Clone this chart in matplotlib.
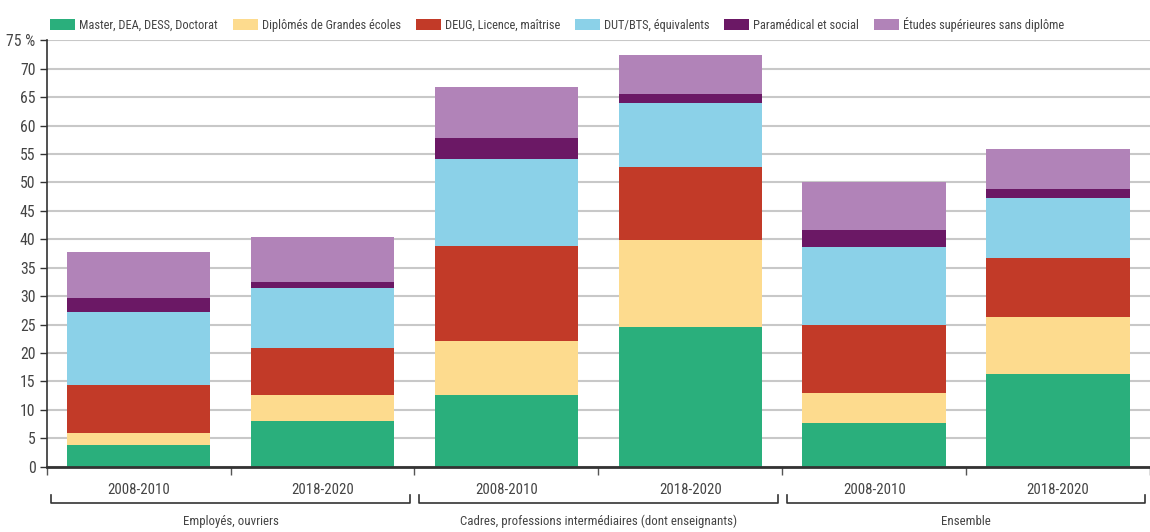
import numpy as np
import matplotlib
matplotlib.use("Agg")
import matplotlib.pyplot as plt
from matplotlib.patches import Patch
from matplotlib import font_manager
from matplotlib.font_manager import FontProperties
from matplotlib.textpath import TextPath

# Data (share of each diploma level, %)
groups = ["Employés, ouvriers",
          "Cadres, professions intermédiaires (dont enseignants)",
          "Ensemble"]
periods = ["2008-2010", "2018-2020"]

series = ["Master, DEA, DESS, Doctorat",
          "Diplômés de Grandes écoles",
          "DEUG, Licence, maîtrise",
          "DUT/BTS, équivalents",
          "Paramédical et social",
          "Études supérieures sans diplôme"]

master = [3.8, 8.1, 12.7, 24.5, 7.7, 16.3]
grandes_ecoles = [2.1, 4.5, 9.4, 15.4, 5.2, 10.0]
deug = [8.4, 8.3, 16.7, 12.8, 12.0, 10.5]
dut_bts = [12.9, 10.6, 15.4, 11.2, 13.8, 10.5]
paramedical = [2.4, 1.0, 3.7, 1.7, 2.9, 1.5]
sans_diplome = [8.1, 7.9, 8.9, 6.8, 8.4, 7.0]

yticks = list(range(0, 80, 5))
ytick_labels = [str(v) for v in yticks[:-1]] + ["75 %"]

colors = ["#2aaf7c", "#fddb8e", "#c23a28", "#8bd1e8", "#6b1865", "#b183b8"]
text_color = "#444444"
DPI = 100

# pick a narrow font if one is installed, else condensed DejaVu
available = {f.name for f in font_manager.fontManager.ttflist}
family, stretch = "DejaVu Sans", "condensed"
for cand in ["Liberation Sans Narrow", "Roboto Condensed",
             "Open Sans Condensed", "Noto Sans Condensed"]:
    if cand in available:
        family, stretch = cand, "normal"
        break
plt.rcParams["font.family"] = [family, "DejaVu Sans"]
plt.rcParams["font.stretch"] = stretch
prop = FontProperties(family=family, stretch=stretch)


def fit_size(s, px):
    # font size (pt) giving the text s an ink width of px pixels
    w = TextPath((0, 0), s, size=10, prop=prop).get_extents().width
    return 10 * px / (w * DPI / 72)


legend_fs = fit_size(series[0], 137)
xtick_fs = fit_size(periods[0], 61)
group_fs = fit_size(groups[1], 275)
ytick_fs = fit_size("70", 14)

values = [master, grandes_ecoles, deug, dut_bts, paramedical, sans_diplome]

fig = plt.figure(figsize=(11.5, 5.32), dpi=DPI)
ax = fig.add_axes([0.0406, 0.1227, 0.9594, 0.8015])

x = np.arange(len(groups) * len(periods))
bottom = np.zeros(len(x))
for vals, col in zip(values, colors):
    ax.bar(x, vals, width=0.78, bottom=bottom, color=col, zorder=3)
    bottom += np.array(vals)

ax.set_xlim(-0.5, 5.441)
ax.set_ylim(0, 75)
ax.set_yticks(yticks)
ax.set_yticklabels(ytick_labels)
ax.yaxis.grid(True, color="#c8c8c8", linewidth=1.5, zorder=0)
ax.set_axisbelow(True)

for side in ["top", "right"]:
    ax.spines[side].set_visible(False)
ax.spines["left"].set_color("#333333")
ax.spines["left"].set_linewidth(1.2)
ax.spines["bottom"].set_color("#333333")
ax.spines["bottom"].set_linewidth(2)
ax.spines["bottom"].set_zorder(4)

ax.tick_params(axis="y", length=5, width=1, color="#333333",
               labelsize=ytick_fs, labelcolor=text_color, pad=3)

# x ticks: labels at bar centers, small ticks at boundaries
ax.set_xticks(x)
ax.set_xticklabels(periods * len(groups))
ax.tick_params(axis="x", length=0, labelsize=xtick_fs, labelcolor=text_color, pad=12)
ax.set_xticks(np.arange(-0.5, 6.0, 1.0), minor=True)
ax.tick_params(axis="x", which="minor", length=6, width=1, color="#555555")

# group brackets and labels
trans = ax.get_xaxis_transform()
for g, name in enumerate(groups):
    x0 = 2 * g - 0.475
    x1 = 2 * g + 1.475
    ax.plot([x0, x0, x1, x1], [-0.066, -0.085, -0.085, -0.066],
            transform=trans, color="#333333", lw=1.2, clip_on=False)
    ax.text(2 * g + 0.5, -0.128, name, transform=trans, ha="center",
            va="center", fontsize=group_fs, color=text_color)

fs_px = legend_fs * DPI / 72
handles = [Patch(facecolor=c, edgecolor="none") for c in colors]
fig.legend(handles, series, loc="center left", ncol=6,
           bbox_to_anchor=(50 / 1150, 0.954), frameon=False,
           fontsize=legend_fs, borderpad=0, borderaxespad=0,
           handlelength=25 / fs_px, handleheight=13 / fs_px,
           handletextpad=4 / fs_px, columnspacing=15 / fs_px,
           labelcolor=text_color)

fig.savefig("out.png", dpi=DPI)
